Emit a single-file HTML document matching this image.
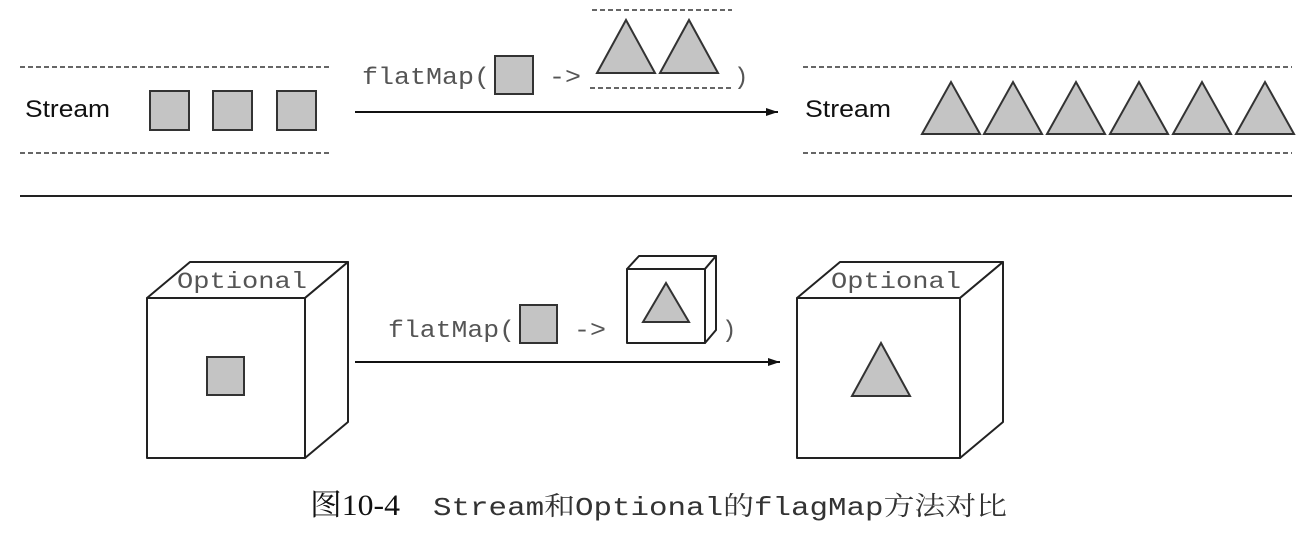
<!DOCTYPE html>
<html><head><meta charset="utf-8"><style>
html,body{margin:0;padding:0;background:#fff;}
svg{display:block;}
.m{font-family:"Liberation Mono",monospace;fill:#555;}
.s{font-family:"Liberation Sans",sans-serif;fill:#111;}
</style></head><body>
<svg width="1312" height="538" viewBox="0 0 1312 538" xmlns="http://www.w3.org/2000/svg">
<defs><marker id="a" markerWidth="12" markerHeight="8" refX="12" refY="4" orient="auto" markerUnits="userSpaceOnUse"><path d="M0,0 L12,4 L0,8 Z" fill="#111"/></marker></defs>
<g stroke="#333" stroke-width="1.5" stroke-dasharray="5,3" fill="none">
<line x1="20" y1="67" x2="330" y2="67"/><line x1="20" y1="153" x2="330" y2="153"/>
<line x1="803" y1="67" x2="1292" y2="67"/><line x1="803" y1="153" x2="1292" y2="153"/>
<line x1="592" y1="10" x2="732" y2="10"/><line x1="590" y1="88" x2="733" y2="88"/>
</g>
<text class="s" x="25" y="117" font-size="24" textLength="85" lengthAdjust="spacingAndGlyphs">Stream</text>
<text class="s" x="805" y="117" font-size="24" textLength="86" lengthAdjust="spacingAndGlyphs">Stream</text>
<g fill="#c4c4c4" stroke="#333" stroke-width="2">
<rect x="150" y="91" width="39" height="39"/><rect x="213" y="91" width="39" height="39"/><rect x="277" y="91" width="39" height="39"/>
<rect x="495" y="56" width="38" height="38"/>
<polygon points="597,73 626,20 655,73"/><polygon points="660,73 689,20 718,73"/>
<polygon points="922,134 951,82 980,134"/><polygon points="984,134 1013,82 1042,134"/><polygon points="1047,134 1076,82 1105,134"/><polygon points="1110,134 1139,82 1168,134"/><polygon points="1173,134 1202,82 1231,134"/><polygon points="1236,134 1265,82 1294,134"/>
</g>
<text class="m" x="362" y="84" font-size="24" textLength="128" lengthAdjust="spacingAndGlyphs">flatMap(</text>
<text class="m" x="549" y="84" font-size="24" textLength="32" lengthAdjust="spacingAndGlyphs">-&gt;</text>
<text class="m" x="734" y="84" font-size="24">)</text>
<line x1="355" y1="112" x2="778" y2="112" stroke="#111" stroke-width="2" marker-end="url(#a)"/>
<line x1="20" y1="196" x2="1292" y2="196" stroke="#222" stroke-width="2"/>
<g fill="#fff" stroke="#222" stroke-width="2" stroke-linejoin="round">
<rect x="147" y="298" width="158" height="160"/>
<polygon points="147,298 190,262 348,262 305,298"/>
<polygon points="305,298 348,262 348,422 305,458"/>
<rect x="797" y="298" width="163" height="160"/>
<polygon points="797,298 840,262 1003,262 960,298"/>
<polygon points="960,298 1003,262 1003,422 960,458"/>
<rect x="627" y="269" width="78" height="74"/>
<polygon points="627,269 639,256 716,256 705,269"/>
<polygon points="705,269 716,256 716,330 705,343"/>
</g>
<text class="m" x="177" y="288" font-size="23" textLength="130" lengthAdjust="spacingAndGlyphs">Optional</text>
<text class="m" x="831" y="288" font-size="23" textLength="130" lengthAdjust="spacingAndGlyphs">Optional</text>
<g fill="#c4c4c4" stroke="#333" stroke-width="2">
<rect x="207" y="357" width="37" height="38"/>
<rect x="520" y="305" width="37" height="38"/>
<polygon points="643,322 666,283 689,322"/>
<polygon points="852,396 881,343 910,396"/>
</g>
<text class="m" x="388" y="337" font-size="24" textLength="127" lengthAdjust="spacingAndGlyphs">flatMap(</text>
<text class="m" x="574" y="337" font-size="24" textLength="32" lengthAdjust="spacingAndGlyphs">-&gt;</text>
<text class="m" x="722" y="337" font-size="24">)</text>
<line x1="355" y1="362" x2="780" y2="362" stroke="#111" stroke-width="2" marker-end="url(#a)"/>
<text x="310" y="515" font-size="30" font-family="'Liberation Serif','Noto Serif CJK SC',serif" fill="#111" textLength="90" lengthAdjust="spacingAndGlyphs">图10-4</text>
<text x="433" y="515" font-size="26" font-family="'Liberation Mono','Noto Serif CJK SC',monospace" fill="#333" textLength="574" lengthAdjust="spacingAndGlyphs">Stream和Optional的flagMap方法对比</text>
</svg>
</body></html>
